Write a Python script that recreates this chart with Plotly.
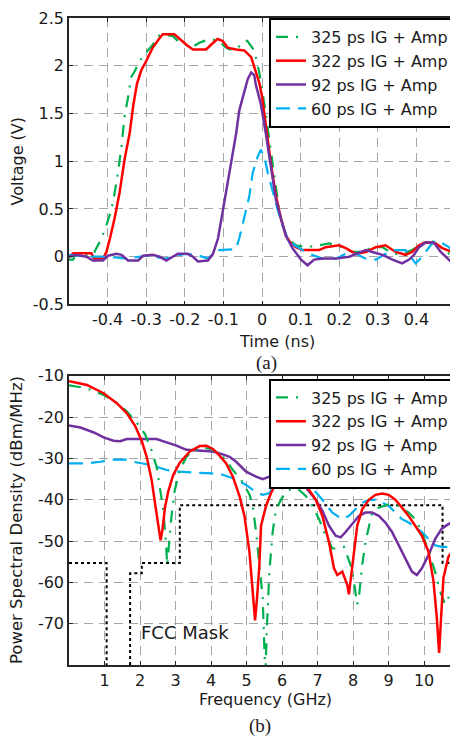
import plotly.graph_objects as go

# ---------------- (a) time domain ----------------
t_325 = [-0.5, -0.489, -0.485, -0.4376, -0.429, -0.416, -0.403, -0.395, -0.386, -0.373, -0.364, -0.356,
         -0.347, -0.339, -0.330, -0.317, -0.300, -0.283, -0.270, -0.257, -0.231, -0.218, -0.196, -0.179,
         -0.162, -0.136, -0.110, -0.097, -0.084, -0.067, -0.046, -0.038, -0.020, -0.007, 0.006, 0.019,
         0.032, 0.045, 0.058, 0.071, 0.088, 0.114, 0.148, 0.174, 0.208, 0.234, 0.260, 0.286, 0.312,
         0.338, 0.363, 0.389, 0.415, 0.437, 0.463, 0.484, 0.5]
v_325 = [-0.03, -0.03, 0.02, 0.02, 0.09, 0.19, 0.33, 0.43, 0.57, 0.88, 1.16, 1.47,
         1.67, 1.88, 1.94, 2.05, 2.14, 2.22, 2.31, 2.33, 2.31, 2.26, 2.22, 2.20,
         2.24, 2.28, 2.26, 2.20, 2.17, 2.17, 2.26, 2.26, 2.16, 1.93, 1.60, 1.22,
         0.81, 0.47, 0.26, 0.17, 0.12, 0.10, 0.12, 0.14, 0.10, 0.05, 0.05, 0.10, 0.10,
         0.03, 0.03, 0.07, 0.14, 0.17, 0.10, 0.03, -0.02]

t_322 = [-0.5, -0.489, -0.442, -0.435, -0.412, -0.403, -0.394, -0.382, -0.369, -0.356, -0.343, -0.334,
         -0.324, -0.313, -0.300, -0.283, -0.265, -0.257, -0.227, -0.214, -0.196, -0.179, -0.145, -0.132,
         -0.115, -0.102, -0.089, -0.067, -0.046, -0.028, -0.016, -0.007, 0.0, 0.010, 0.023, 0.036,
         0.049, 0.062, 0.075, 0.088, 0.105, 0.148, 0.165, 0.200, 0.217, 0.243, 0.269, 0.295, 0.320,
         0.346, 0.372, 0.389, 0.407, 0.424, 0.450, 0.467, 0.493, 0.5]
v_322 = [0.0, 0.035, 0.035, -0.02, -0.02, 0.05, 0.19, 0.40, 0.67, 1.02, 1.29, 1.57,
         1.81, 1.95, 2.05, 2.19, 2.29, 2.33, 2.33, 2.28, 2.22, 2.17, 2.17, 2.22,
         2.28, 2.26, 2.19, 2.17, 2.16, 2.09, 1.93, 1.82, 1.68, 1.36, 0.98, 0.64,
         0.40, 0.22, 0.14, 0.10, 0.07, 0.07, 0.10, 0.12, 0.09, 0.03, 0.05, 0.10, 0.12,
         0.05, 0.02, 0.05, 0.12, 0.15, 0.14, 0.09, 0.05, 0.02]

t_92 = [-0.5, -0.481, -0.455, -0.438, -0.412, -0.399, -0.377, -0.364, -0.347, -0.321, -0.308, -0.283,
        -0.265, -0.248, -0.231, -0.218, -0.192, -0.179, -0.166, -0.140, -0.127, -0.114, -0.102, -0.089,
        -0.076, -0.067, -0.059, -0.046, -0.037, -0.028, -0.020, -0.016, -0.003, 0.010, 0.023, 0.036,
        0.049, 0.062, 0.079, 0.101, 0.118, 0.135, 0.157, 0.191, 0.226, 0.243, 0.269, 0.286, 0.312,
        0.338, 0.363, 0.381, 0.394, 0.407, 0.424, 0.445, 0.463, 0.484, 0.5]
v_92 = [0.0, 0.02, 0.0, -0.04, -0.04, 0.01, 0.03, 0.02, -0.04, -0.04, 0.01, 0.02,
        0.0, -0.04, 0.0, 0.03, 0.03, 0.0, -0.05, -0.04, 0.03, 0.19, 0.47, 0.78,
        1.09, 1.29, 1.53, 1.71, 1.86, 1.93, 1.90, 1.80, 1.60, 1.29, 0.95, 0.60,
        0.40, 0.22, 0.09, -0.03, -0.09, -0.03, -0.02, -0.02, 0.0, 0.03, 0.07, 0.05, 0.02,
        -0.03, -0.07, -0.03, 0.02, 0.10, 0.15, 0.15, 0.05, -0.03, -0.09]

t_60 = [-0.5, -0.45, -0.40, -0.35, -0.30, -0.25, -0.20, -0.17, -0.14, -0.127, -0.110, -0.076,
        -0.068, -0.059, -0.046, -0.033, -0.024, -0.011, -0.003, 0.006, 0.015, 0.028, 0.040, 0.053,
        0.066, 0.084, 0.101, 0.122, 0.157, 0.191, 0.217, 0.243, 0.269, 0.295, 0.320, 0.346, 0.372,
        0.398, 0.415, 0.437, 0.450, 0.467, 0.484, 0.5]
v_60 = [0.02, 0.0, 0.0, -0.02, 0.01, -0.02, 0.03, 0.02, -0.02, 0.03, 0.07, 0.08,
        0.08, 0.19, 0.40, 0.63, 0.88, 1.05, 1.12, 1.05, 0.88, 0.67, 0.50, 0.33,
        0.19, 0.12, 0.08, 0.03, -0.02, -0.02, 0.03, 0.03, -0.02, -0.03, 0.03, 0.07, 0.07,
        -0.07, 0.0, 0.12, 0.17, 0.14, 0.10, 0.03]

time_ticks = [-0.4, -0.3, -0.2, -0.1, 0, 0.1, 0.2, 0.3, 0.4]
time_ticktext = ["-0.4", "-0.3", "-0.2", "-0.1", "0", "0.1", "0.2", "0.3", "0.4"]
volt_ticks = [-0.5, 0, 0.5, 1, 1.5, 2, 2.5]
volt_ticktext = ["-0.5", "0", "0.5", "1", "1.5", "2", "2.5"]

# ---------------- (b) PSD ----------------
f_325 = [0.0, 0.086, 0.506, 0.973, 1.346, 1.626, 1.907, 2.140, 2.327, 2.467, 2.561, 2.654, 2.729,
         2.766, 2.822, 2.887, 2.980, 3.120, 3.307, 3.494, 3.774, 4.007, 4.241, 4.428, 4.614, 4.848,
         5.081, 5.175, 5.268, 5.362, 5.455, 5.50, 5.53, 5.57, 5.595, 5.642, 5.735, 5.829, 5.97, 6.108,
         6.295, 6.482, 6.669, 6.856, 7.042, 7.229, 7.416, 7.603, 7.743, 7.836, 7.93, 8.023, 8.116,
         8.163, 8.256, 8.35, 8.443, 8.536, 8.723, 9.003, 9.283, 9.564, 9.75, 9.937, 10.124, 10.31,
         10.45, 10.59, 10.684, 10.777, 10.871]
p_325 = [-12.3, -12.4, -13.0, -14.6, -16.6, -18.6, -21.3, -24.1, -28.1, -32.0, -36.8, -42.3, -50.2,
         -55.8, -50.2, -43.9, -37.6, -32.8, -29.6, -28.1, -27.4, -27.7, -28.9, -30.4, -32.8, -35.2,
         -38.7, -41.5, -47.8, -55.8, -63.7, -75.6, -82.7, -71.6, -67.6, -57.4, -47.8, -42.3, -40.0, -38.0,
         -37.2, -37.6, -39.1, -41.5, -44.7, -48.7, -51.8, -51.8, -51.4, -53.4, -55.8, -59.7, -65.3,
         -63.7, -55.8, -50.2, -46.3, -43.1, -41.9, -41.1, -41.5, -43.1, -44.7, -47.8, -52.6, -57.4,
         -62.1, -65.3, -63.7, -61.3, -58.9]

f_322 = [0.0, 0.086, 0.506, 0.973, 1.346, 1.626, 1.860, 2.047, 2.187, 2.327, 2.420, 2.514, 2.579,
         2.635, 2.701, 2.794, 2.934, 3.120, 3.400, 3.680, 3.867, 4.054, 4.241, 4.428, 4.614, 4.801,
         4.941, 5.081, 5.174, 5.240, 5.296, 5.361, 5.408, 5.548, 5.688, 5.829, 6.015, 6.202, 6.389,
         6.575, 6.762, 6.949, 7.136, 7.322, 7.462, 7.556, 7.696, 7.836, 7.883, 7.929, 8.023, 8.116,
         8.256, 8.443, 8.63, 8.817, 9.003, 9.190, 9.377, 9.564, 9.750, 9.937, 10.124, 10.264, 10.357,
         10.423, 10.479, 10.544, 10.684, 10.871]
p_322 = [-11.3, -11.4, -12.2, -14.2, -16.6, -19.0, -22.1, -25.7, -29.6, -35.2, -40.7, -46.3, -49.8,
         -47.1, -42.0, -38.0, -34.0, -31.0, -28.3, -27.0, -26.9, -27.7, -29.3, -31.2, -34.4, -39.1,
         -43.9, -52.6, -62.1, -69.2, -63.7, -55.8, -46.3, -41.5, -38.4, -36.0, -34.4, -34.0, -34.2,
         -35.6, -37.6, -40.0, -43.9, -50.3, -56.6, -58.2, -57.4, -60.6, -62.9, -59.7, -51.8, -46.3,
         -42.3, -40.0, -38.8, -38.5, -38.8, -40.0, -41.9, -43.9, -46.3, -48.7, -52.6, -59.7, -68.4,
         -77.1, -68.4, -58.9, -53.8, -51.4]

f_92 = [0.0, 0.086, 0.32, 0.70, 0.973, 1.253, 1.44, 1.626, 1.907, 2.187, 2.467, 2.747, 3.027, 3.307,
        3.680, 4.054, 4.334, 4.521, 4.708, 4.988, 5.268, 5.455, 5.642, 5.829, 6.015, 6.202, 6.389,
        6.575, 6.762, 6.949, 7.136, 7.322, 7.509, 7.649, 7.789, 7.976, 8.163, 8.35, 8.536, 8.723,
        8.91, 9.097, 9.283, 9.47, 9.657, 9.797, 9.937, 10.124, 10.31, 10.497, 10.684, 10.871]
p_92 = [-22.0, -22.1, -22.5, -23.7, -24.9, -25.7, -25.8, -25.3, -25.3, -25.3, -25.3, -26.1, -26.9, -27.9,
        -28.1, -28.3, -29.0, -29.6, -30.8, -33.2, -34.4, -35.0, -34.4, -34.0, -33.8, -34.0, -34.8,
        -36.0, -38.0, -40.0, -42.7, -46.3, -48.7, -49.1, -47.8, -45.9, -43.9, -43.1, -43.1, -43.9,
        -45.5, -47.8, -51.0, -54.2, -57.4, -58.2, -56.6, -53.4, -49.5, -47.0, -45.9, -45.1]

f_60 = [0.0, 0.086, 0.506, 0.88, 1.253, 1.626, 1.81, 2.187, 2.467, 2.747, 3.12, 3.494, 3.867, 4.241,
        4.614, 4.988, 5.268, 5.455, 5.642, 5.829, 6.015, 6.295, 6.575, 6.856, 7.136, 7.416, 7.696,
        7.883, 8.07, 8.256, 8.443, 8.63, 8.817, 9.003, 9.19, 9.377, 9.564, 9.75, 9.937, 10.124,
        10.31, 10.497, 10.684, 10.871]
p_60 = [-31.2, -31.2, -31.2, -30.8, -30.3, -30.3, -30.8, -31.4, -32.0, -32.8, -33.2, -33.4, -33.6, -33.7,
        -34.8, -36.4, -38.2, -38.8, -38.4, -35.6, -35.0, -34.8, -35.6, -37.2, -40.0, -43.1, -44.7,
        -43.9, -42.3, -40.7, -40.0, -40.0, -40.7, -41.5, -43.1, -44.7, -45.5, -46.7, -47.8, -49.5,
        -51.0, -51.4, -51.4, -51.4]

mask_freq = [0.0, 1.06, 1.06, None, 1.72, 1.72, 2.05, 2.05, 3.12, 3.12, 10.52, 10.52, 10.87]
mask_level = [-55.3, -55.3, -80.0, None, -80.0, -57.8, -57.8, -55.3, -55.3, -41.3, -41.3, -55.3, -55.3]

freq_ticks = [1, 2, 3, 4, 5, 6, 7, 8, 9, 10]
freq_ticktext = ["1", "2", "3", "4", "5", "6", "7", "8", "9", "10"]
psd_ticks = [-70, -60, -50, -40, -30, -20, -10]
psd_ticktext = ["-70", "-60", "-50", "-40", "-30", "-20", "-10"]

series_names = ["325 ps IG + Amp", "322 ps IG + Amp", "92 ps IG + Amp", "60 ps IG + Amp"]

GREEN, RED, PURPLE, CYAN = "#00B050", "#FF0000", "#7030A0", "#00B0F0"
styles = {
    series_names[0]: dict(color=GREEN, width=2.2, dash="12px,8px,2px,8px"),
    series_names[1]: dict(color=RED, width=2.5),
    series_names[2]: dict(color=PURPLE, width=2.5),
    series_names[3]: dict(color=CYAN, width=2.2, dash="14px,8px"),
}
FONT = "DejaVu Sans"

fig = go.Figure()
top = [(series_names[0], t_325, v_325), (series_names[1], t_322, v_322),
       (series_names[3], t_60, v_60), (series_names[2], t_92, v_92)]
bot = [(series_names[3], f_60, p_60), (series_names[2], f_92, p_92),
       (series_names[0], f_325, p_325), (series_names[1], f_322, p_322)]
rank = {n: i for i, n in enumerate(series_names)}
for n, x, y in top:
    fig.add_trace(go.Scatter(x=x, y=y, mode="lines", name=n, line=styles[n],
                             xaxis="x", yaxis="y", legend="legend", legendrank=rank[n] + 1))
fig.add_trace(go.Scatter(x=mask_freq, y=mask_level, mode="lines", showlegend=False,
                         line=dict(color="black", width=2, dash="3px,3px"),
                         xaxis="x2", yaxis="y2", connectgaps=False))
for n, x, y in bot:
    fig.add_trace(go.Scatter(x=x, y=y, mode="lines", name=n, line=styles[n],
                             xaxis="x2", yaxis="y2", legend="legend2", legendrank=rank[n] + 1))

# The page body adds an 8px offset; work in reference-picture pixels and subtract it.
OFF = 8
W, H = 458 - OFF, 740 - OFF
PLOT_L, PLOT_R, PLOT_T, PLOT_B = 69, 457, 10, 665   # reference pixels
L, R, T, B = PLOT_L - OFF, 458 - PLOT_R, PLOT_T - OFF, 740 - PLOT_B
PW, PH = PLOT_R - PLOT_L, PLOT_B - PLOT_T


def px(X):
    return (X - PLOT_L) / PW


def py(Y):
    return (PLOT_B - Y) / PH


axis_common = dict(showline=True, mirror="ticks", linecolor="#262626", linewidth=1.5,
                   showgrid=True, gridcolor="#a6a6a6", gridwidth=1, griddash="9px,6px",
                   ticks="inside", ticklen=4, tickcolor="#262626", zeroline=False,
                   tickfont=dict(family=FONT, size=16, color="#1a1a1a"))

legend_common = dict(xanchor="right", yanchor="top", bgcolor="white",
                     bordercolor="black", borderwidth=2,
                     font=dict(family=FONT, size=16, color="#1a1a1a"),
                     tracegroupgap=0, itemwidth=30)

fig.update_layout(
    width=W, height=H, margin=dict(l=L, r=R, t=T, b=B, pad=0),
    paper_bgcolor="white", plot_bgcolor="white",
    font=dict(family=FONT, size=16, color="#1a1a1a"),
    xaxis=dict(domain=[0, 1], range=[-0.5, 0.5], anchor="y",
               tickmode="array", tickvals=time_ticks, ticktext=time_ticktext, **axis_common),
    yaxis=dict(domain=[py(300), 1], range=[-0.5, 2.5], anchor="x",
               tickmode="array", tickvals=volt_ticks, ticktext=volt_ticktext, **axis_common),
    xaxis2=dict(domain=[0, 1], range=[0, 10.87], anchor="y2",
                tickmode="array", tickvals=freq_ticks, ticktext=freq_ticktext, **axis_common),
    yaxis2=dict(domain=[0, py(372.3)], range=[-80, -10], anchor="x2",
                tickmode="array", tickvals=psd_ticks, ticktext=psd_ticktext, **axis_common),
    legend=dict(x=1, y=1, **legend_common),
    legend2=dict(x=1, y=py(375), **legend_common),
    showlegend=True,
)

ann = [
    dict(text="Voltage (V)", x=px(17), y=py(155), textangle=-90, font=dict(family=FONT, size=16)),
    dict(text="Time (ns)", x=px(278), y=py(337), font=dict(family=FONT, size=16)),
    dict(text="(a)", x=px(268), y=py(359), font=dict(family="Liberation Serif", size=19)),
    dict(text="Power Spectral Density (dBm/MHz)", x=px(17), y=py(518), textangle=-90,
         font=dict(family=FONT, size=16.5)),
    dict(text="Frequency (GHz)", x=px(267), y=py(700), font=dict(family=FONT, size=16)),
    dict(text="(b)", x=px(261), y=py(727), font=dict(family="Liberation Serif", size=19)),
]
for a in ann:
    a.update(xref="paper", yref="paper", showarrow=False, xanchor="center", yanchor="middle")
    fig.add_annotation(**a)
fig.add_annotation(text="FCC Mask", x=3.26, y=-72.2, xref="x2", yref="y2", showarrow=False,
                   xanchor="center", yanchor="middle", font=dict(family=FONT, size=18, color="#1a1a1a"))

fig.write_html("out.html")
